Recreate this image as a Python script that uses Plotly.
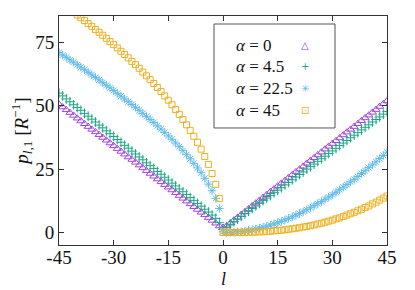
import plotly.graph_objects as go

# ---- data -------------------------------------------------------------
L = list(range(-45, 46))

ALPHA_0 = [50.6, 49.5, 48.4, 47.3, 46.2, 45.1, 44.0, 42.9, 41.8, 40.7,
           39.7, 38.6, 37.5, 36.4, 35.3, 34.2, 33.1, 32.0, 30.9, 29.8,
           28.8, 27.7, 26.6, 25.5, 24.4, 23.3, 22.2, 21.1, 20.0, 18.9,
           17.9, 16.8, 15.7, 14.6, 13.5, 12.4, 11.3, 10.2, 9.1, 8.0,
           7.0, 5.9, 4.8, 3.7, 2.6,
           2.0,
           2.6, 3.7, 4.9, 6.0, 7.1, 8.2, 9.3, 10.5, 11.6, 12.7,
           13.8, 14.9, 16.1, 17.2, 18.3, 19.4, 20.5, 21.7, 22.8, 23.9,
           25.0, 26.1, 27.3, 28.4, 29.5, 30.6, 31.7, 32.9, 34.0, 35.1,
           36.2, 37.3, 38.5, 39.6, 40.7, 41.8, 42.9, 44.1, 45.2, 46.3,
           47.4, 48.5, 49.7, 50.8, 51.9]

ALPHA_4_5 = [55.0, 53.9, 52.7, 51.6, 50.4, 49.3, 48.2, 47.0, 45.9, 44.7,
             43.6, 42.4, 41.3, 40.1, 39.0, 37.9, 36.7, 35.6, 34.4, 33.3,
             32.1, 31.0, 29.8, 28.7, 27.5, 26.4, 25.3, 24.1, 23.0, 21.8,
             20.7, 19.5, 18.4, 17.2, 16.1, 15.0, 13.8, 12.7, 11.5, 10.4,
             9.2, 8.1, 6.9, 5.6, 3.9,
             1.2,
             2.2, 3.3, 4.3, 5.3, 6.4, 7.4, 8.4, 9.5, 10.5, 11.5,
             12.6, 13.6, 14.6, 15.7, 16.7, 17.7, 18.8, 19.8, 20.8, 21.9,
             22.9, 23.9, 25.0, 26.0, 27.0, 28.1, 29.1, 30.1, 31.2, 32.2,
             33.2, 34.3, 35.3, 36.3, 37.4, 38.4, 39.4, 40.5, 41.5, 42.5,
             43.6, 44.6, 45.6, 46.7, 47.7]

ALPHA_22_5 = [71.0, 70.0, 69.1, 68.1, 67.2, 66.2, 65.2, 64.2, 63.2, 62.2,
              61.2, 60.2, 59.1, 58.1, 57.1, 56.0, 54.9, 53.8, 52.7, 51.6,
              50.5, 49.4, 48.2, 47.0, 45.8, 44.6, 43.4, 42.1, 40.8, 39.5,
              38.1, 36.8, 35.3, 33.9, 32.3, 30.7, 29.1, 27.3, 25.5, 23.6,
              21.4, 19.1, 16.5, 13.5, 9.5,
              0.3,
              0.0, 0.1, 0.2, 0.3, 0.4, 0.6, 0.9, 1.1, 1.4, 1.8,
              2.1, 2.5, 2.9, 3.4, 3.9, 4.4, 5.0, 5.6, 6.2, 6.9,
              7.5, 8.2, 9.0, 9.8, 10.6, 11.4, 12.2, 13.1, 14.0, 14.9,
              15.9, 16.9, 17.9, 18.9, 20.0, 21.0, 22.1, 23.3, 24.4, 25.6,
              26.7, 27.9, 29.2, 30.4, 31.7]

ALPHA_45 = [91.1, 90.1, 89.0, 88.0, 86.9, 85.8, 84.7, 83.6, 82.4, 81.3,
            80.1, 79.0, 77.8, 76.6, 75.3, 74.1, 72.8, 71.5, 70.2, 68.9,
            67.5, 66.2, 64.8, 63.3, 61.8, 60.3, 58.8, 57.2, 55.6, 53.9,
            52.2, 50.4, 48.5, 46.6, 44.6, 42.5, 40.3, 38.0, 35.6, 32.9,
            30.0, 26.9, 23.3, 19.0, 13.4,
            0.0,
            0.0, 0.0, 0.0, 0.0, 0.0, 0.1, 0.1, 0.2, 0.2, 0.3,
            0.3, 0.4, 0.5, 0.7, 0.8, 0.9, 1.1, 1.3, 1.5, 1.7,
            1.9, 2.2, 2.4, 2.7, 3.0, 3.4, 3.7, 4.1, 4.5, 4.9,
            5.4, 5.8, 6.3, 6.9, 7.4, 8.0, 8.6, 9.2, 9.9, 10.5,
            11.3, 12.0, 12.8, 13.6, 14.4]

SERIES_NAMES = ["0", "4.5", "22.5", "45"]
X_TICKS = [-45, -30, -15, 0, 15, 30, 45]
X_TICK_LABELS = ["-45", "-30", "-15", "0", "15", "30", "45"]
Y_TICKS = [0, 25, 50, 75]
Y_TICK_LABELS = ["0", "25", "50", "75"]

# ---- style ------------------------------------------------------------
COLORS = ["#a543e0", "#1aa982", "#62bcec", "#eeb020"]
SYMBOLS = ["triangle-up-open", "cross-thin-open", "asterisk-open", "square-open"]
SIZES = [7, 7, 7, 6]
LEGEND_GLYPHS = ["△", "+", "✳", "⊡"]
SERIF = "Liberation Serif"

fig = go.Figure()
for vals, col, sym, sz, nm in zip([ALPHA_0, ALPHA_4_5, ALPHA_22_5, ALPHA_45],
                                  COLORS, SYMBOLS, SIZES, SERIES_NAMES):
    fig.add_trace(go.Scatter(
        x=L, y=vals, mode="markers", name="α = " + nm,
        marker=dict(symbol=sym, size=sz, color=col, line=dict(width=1, color=col)),
        showlegend=False,
    ))

axis_common = dict(
    showline=True, linecolor="#333333", linewidth=1, mirror="ticks",
    ticks="inside", ticklen=5, tickcolor="#333333", tickwidth=1,
    showgrid=False, zeroline=False, automargin=False,
    tickfont=dict(family=SERIF, size=19, color="#111111"),
)

# the page adds an 8px body margin at top/left, so the figure is 8px smaller
fig.update_layout(
    width=407, height=282,
    margin=dict(l=51, r=28, t=8, b=45),
    paper_bgcolor="white", plot_bgcolor="white",
    font=dict(family=SERIF, color="#111111"),
    xaxis=dict(range=[-45, 45], tickvals=X_TICKS, ticktext=X_TICK_LABELS,
               ticklabelstandoff=-5, **axis_common),
    yaxis=dict(range=[-4.9, 85.4], tickvals=Y_TICKS, ticktext=Y_TICK_LABELS,
               title=dict(text="<i>p</i><sub><i>l</i>,1</sub> [<i>R</i><sup>−1</sup>]",
                          font=dict(family=SERIF, size=19, color="#111111"),
                          standoff=6),
               **axis_common),
)

# x-axis title as an annotation so it stays inside the picture
fig.add_annotation(xref="paper", yref="paper", x=0.5, y=-0.148,
                   xanchor="center", yanchor="middle", showarrow=False,
                   text="<i>l</i>", font=dict(family=SERIF, size=18, color="#111111"))

# ---- legend box (text left, symbol right) -------------------------------
fig.add_shape(type="rect", xref="paper", yref="paper",
              x0=0.4726, x1=0.8415, y0=0.511, y1=0.965,
              line=dict(color="#555555", width=1), fillcolor="white", layer="above")
legend_y = [0.873, 0.7795, 0.683, 0.5895]
for nm, col, gl, yy in zip(SERIES_NAMES, COLORS, LEGEND_GLYPHS, legend_y):
    fig.add_annotation(xref="paper", yref="paper", x=0.5335, y=yy,
                       xanchor="left", yanchor="middle", showarrow=False,
                       text="<i>α</i> = " + nm,
                       font=dict(family=SERIF, size=17, color="#111111"))
    fig.add_annotation(xref="paper", yref="paper", x=0.75, y=yy,
                       xanchor="center", yanchor="middle", showarrow=False,
                       text=gl, font=dict(family="DejaVu Sans", size=10, color=col))

fig.write_html("out.html")
